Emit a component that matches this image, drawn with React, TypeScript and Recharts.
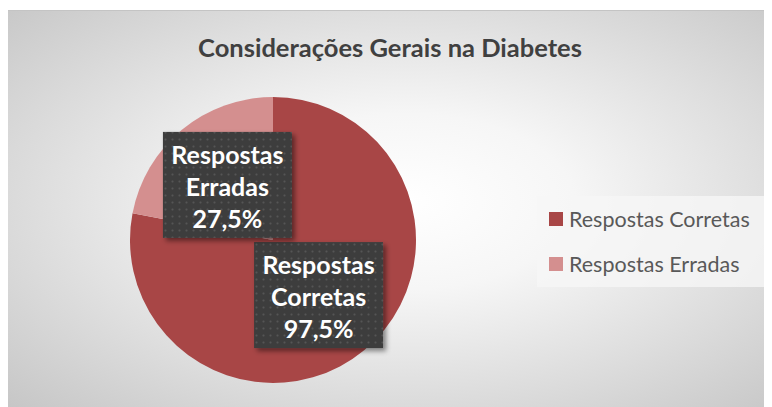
import React from 'react';
import { PieChart, Pie, Cell, Legend } from 'recharts';

const title = 'Considerações Gerais na Diabetes';
const categories = ['Respostas Corretas', 'Respostas Erradas'];
const values = [97.5, 27.5];
const colors = ['#A84646', '#D48F8F'];

const data = categories.map((name, i) => ({ name, value: values[i] }));

const RAD = Math.PI / 180;
const FONT = 'Lato, "Open Sans", sans-serif';

function fmt(v: number) {
  return v.toFixed(1).replace('.', ',') + '%';
}

function renderLabel(props: any) {
  const { cx, cy, midAngle, outerRadius, index, name, value } = props;
  const r = outerRadius * 0.5;
  const x = cx + r * Math.cos(-midAngle * RAD);
  const y = cy + r * Math.sin(-midAngle * RAD);
  const w = 129;
  const h = 106;
  const lines = [...String(name).split(' '), fmt(Number(value))];
  const pid = `dots-${index}`;
  const fid = `shadow-${index}`;
  return (
    <g key={`lbl-${index}`}>
      <defs>
        <pattern id={pid} width={7} height={7} patternUnits="userSpaceOnUse">
          <rect width={7} height={7} fill="#3d3d3d" />
          <circle cx={3.5} cy={3.5} r={1.1} fill="#555555" />
        </pattern>
        <filter id={fid} x="-20%" y="-20%" width="140%" height="140%">
          <feDropShadow dx={3} dy={3} stdDeviation={2.5} floodColor="#000" floodOpacity={0.45} />
        </filter>
      </defs>
      <rect x={x - w / 2} y={y - h / 2} width={w} height={h} fill={`url(#${pid})`} filter={`url(#${fid})`} />
      {lines.map((ln, i) => (
        <text
          key={i}
          x={x}
          y={y + (i - 1) * 32 + 1}
          textAnchor="middle"
          dominantBaseline="central"
          fill="#ffffff"
          fontFamily={FONT}
          fontWeight={700}
          fontSize={25}
        >
          {ln}
        </text>
      ))}
    </g>
  );
}

function LegendBox() {
  return (
    <div
      style={{
        position: 'relative',
        width: 229,
        height: 91,
        background: 'rgba(246,246,246,0.8)',
        fontFamily: FONT,
        fontSize: 21.5,
        color: '#595959',
      }}
    >
      {categories.map((c, i) => (
        <div
          key={c}
          style={{
            position: 'absolute',
            left: 12,
            top: 23 + i * 45 - 14,
            height: 28,
            display: 'flex',
            alignItems: 'center',
            whiteSpace: 'nowrap',
          }}
        >
          <span style={{ display: 'inline-block', width: 14, height: 14, background: colors[i], marginRight: 6 }} />
          <span>{c}</span>
        </div>
      ))}
    </div>
  );
}

export default function App() {
  return (
    <div
      style={{
        position: 'relative',
        width: 764,
        height: 397,
        marginTop: 2,
        borderTop: '1px solid #c4c4c4',
        background: 'radial-gradient(ellipse at 52% 48%, #ffffff 0%, #f6f6f6 30%, #c6c6c6 100%)',
        overflow: 'hidden',
      }}
    >
      <div
        style={{
          position: 'absolute',
          left: 0,
          width: 764,
          top: 21,
          textAlign: 'center',
          fontFamily: FONT,
          fontWeight: 700,
          fontSize: 25.5,
          color: '#404040',
        }}
      >
        {title}
      </div>
      <div style={{ position: 'absolute', left: 0, top: -1 }}>
        <PieChart width={764} height={397} margin={{ top: 0, right: 0, bottom: 0, left: 0 }}>
          <Pie
            data={data}
            dataKey="value"
            nameKey="name"
            cx={265}
            cy={230}
            outerRadius={143}
            startAngle={90}
            endAngle={-270}
            stroke="none"
            label={renderLabel}
            labelLine={false}
            isAnimationActive={false}
          >
            {data.map((d, i) => (
              <Cell key={d.name} fill={colors[i]} />
            ))}
          </Pie>
          <Legend
            content={() => <LegendBox />}
            wrapperStyle={{ left: 529, top: 186, width: 229, height: 91 }}
          />
        </PieChart>
      </div>
    </div>
  );
}
